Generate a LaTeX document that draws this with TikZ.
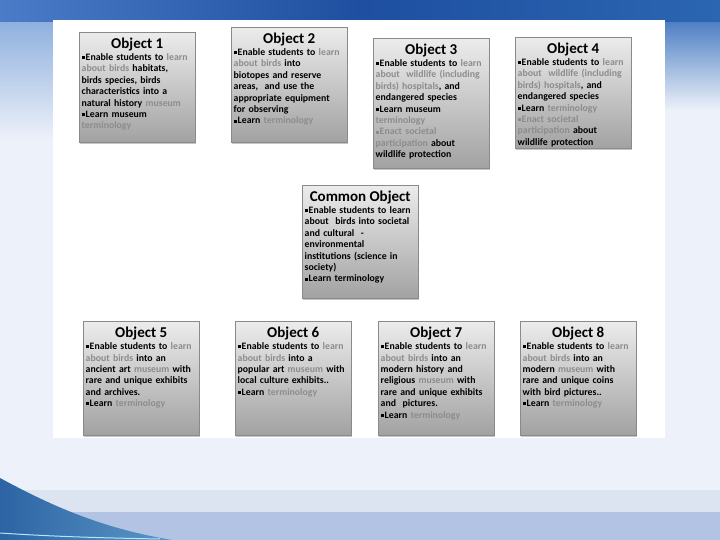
\documentclass[tikz,border=0pt]{standalone}
\usepackage{fontspec}
\setmainfont{Carlito}
\usetikzlibrary{shadows}
\definecolor{cBand}   {HTML}{1E4FA0}
\definecolor{cBandL}  {HTML}{4A7CC8}
\definecolor{cBandR}  {HTML}{2B66B2}
\definecolor{cFadeL}  {HTML}{8FB0DE}
\definecolor{cFadeR}  {HTML}{4F80C4}
\definecolor{cPage}   {HTML}{EDF1F9}
\definecolor{cStrip}  {HTML}{DCE4F1}
\definecolor{cFoot}   {HTML}{B2C3E3}
\definecolor{cWaveA}  {HTML}{2C64A4}
\definecolor{cWaveB}  {HTML}{5C97C6}
\definecolor{cBoxT}   {HTML}{ECECEC}
\definecolor{cBoxB}   {HTML}{A2A2A2}
\definecolor{cLine}   {HTML}{8A8A8A}
\definecolor{cSoft}   {HTML}{8C8C8C}
\newcommand{\sq}{\rule[0.25ex]{0.33em}{0.33em}\kern0.08em}
\newcommand{\lt}[1]{\textcolor{cSoft}{#1}}
\newcommand{\hd}[1]{\makebox[\linewidth]{\fontsize{15}{15}\selectfont #1}\\[1pt]}

\begin{document}
\begin{tikzpicture}[x=1pt, y=-1pt,
        obj/.style = {draw=cLine, top color=cBoxT, bottom color=cBoxB, anchor=north west,
          text width=111pt, inner xsep=2.5pt, inner ysep=4pt, text height=12pt, align=left,
          font=\bfseries\fontsize{9.8}{11.4}\selectfont,
          drop shadow={shadow xshift=0.5pt, shadow yshift=-2pt, opacity=0.45}} ]
      % slide background
      \useasboundingbox (0,0) rectangle (720,540);
      \fill[cPage] (0,0) rectangle (720,540);
      \shade[top color=cFadeL, bottom color=cPage] (0,22) rectangle (53,140);
      \shade[top color=cFadeR, bottom color=cPage] (665,22) rectangle (720,110);
      \shade[left color=cBandL, right color=cBand] (0,0) rectangle (360,22);
      \shade[left color=cBand, right color=cBandR] (360,0) rectangle (720,22);
      \fill[cStrip] (0,490) rectangle (720,512);
      \fill[cFoot] (0,512) rectangle (720,540);
      \shade[left color=cWaveA, right color=cWaveB] (0,478) .. controls (50,505) and (100,528) .. (172,540) -- (0,540) -- cycle;
      \draw[cyan!30, line width=1pt] (0,533) .. controls (60,537) and (110,538) .. (160,539);
      \fill[white] (53,20) rectangle (665,438);

      % top row
      \node[obj, text depth=90pt] (o1) at (79,32) {\hd{Object 1}
        \sq Enable students to \lt{learn}\\ \lt{about birds} habitats,\\ birds species, birds\\
        characteristics into a\\ natural history \lt{museum}\\ \sq Learn museum\\ \lt{terminology}};
      \node[obj, text depth=95pt] (o2) at (231,27) {\hd{Object 2}
        \sq Enable students to \lt{learn}\\ \lt{about birds} into\\ biotopes and reserve\\
        areas,\ \ and use the\\ appropriate equipment\\ for observing\\ \sq Learn \lt{terminology}};
      \node[obj, text depth=110pt] (o3) at (373,38) {\hd{Object 3}
        \sq Enable students to \lt{learn}\\ \lt{about\ \ wildlife (including}\\ \lt{birds) hospitals}, and\\
        endangered species\\ \sq Learn museum\\ \lt{terminology}\\ \lt{\sq Enact societal}\\
        \lt{participation} about\\ wildlife protection};
      \node[obj, text depth=91pt] (o4) at (515,37) {\hd{Object 4}
        \sq Enable students to \lt{learn}\\ \lt{about\ \ wildlife (including}\\ \lt{birds) hospitals}, and\\
        endangered species\\ \sq Learn \lt{terminology}\\ \lt{\sq Enact societal}\\
        \lt{participation} about\\ wildlife protection};

      % middle
      \node[obj, text depth=93pt] (com) at (302,185) {\hd{Common Object}
        \sq Enable students to learn\\ about\ \ birds into societal\\ and cultural\ \ -\\
        environmental\\ institutions (science in\\ society)\\ \sq Learn terminology};

      % bottom row
      \node[obj, text depth=94pt] (o5) at (83,321) {\hd{Object 5}
        \sq Enable students to \lt{learn}\\ \lt{about birds} into an\\ ancient art \lt{museum} with\\
        rare and unique exhibits\\ and archives.\\ \sq Learn \lt{terminology}};
      \node[obj, text depth=94pt] (o6) at (235,321) {\hd{Object 6}
        \sq Enable students to \lt{learn}\\ \lt{about birds} into a\\ popular art \lt{museum} with\\
        local culture exhibits..\\ \sq Learn \lt{terminology}};
      \node[obj, text depth=94pt] (o7) at (378,321) {\hd{Object 7}
        \sq Enable students to \lt{learn}\\ \lt{about birds} into an\\ modern history and\\
        religious \lt{museum} with\\ rare and unique exhibits\\ and\ \ pictures.\\ \sq Learn \lt{terminology}};
      \node[obj, text depth=94pt] (o8) at (520,321) {\hd{Object 8}
        \sq Enable students to \lt{learn}\\ \lt{about birds} into an\\ modern \lt{museum} with\\
        rare and unique coins\\ with bird pictures..\\ \sq Learn \lt{terminology}};
    \end{tikzpicture}
\end{document}
